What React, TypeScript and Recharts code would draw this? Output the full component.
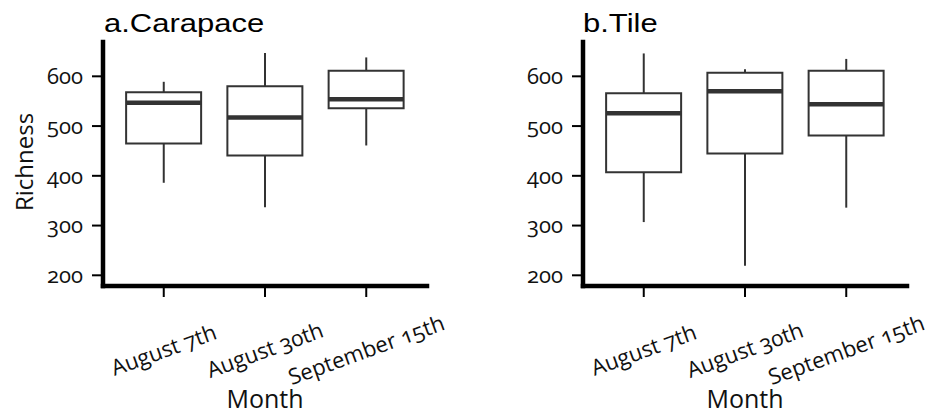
import React from 'react';
import { ComposedChart, Bar, Scatter, ErrorBar, XAxis, YAxis } from 'recharts';

// Sampling dates (categories on the x axis)
const months = ['August 7th', 'August 30th', 'September 15th'];
const yTicks = [200, 300, 400, 500, 600];

// a. Carapace – box plot statistics per month
const carapaceLow = [386, 337, 461];
const carapaceQ1 = [465, 441, 536];
const carapaceMedian = [547, 517, 554];
const carapaceQ3 = [568, 580, 611];
const carapaceHigh = [589, 647, 638];

// b. Tile – box plot statistics per month
const tileLow = [307, 219, 336];
const tileQ1 = [407, 445, 481];
const tileMedian = [526, 570, 544];
const tileQ3 = [566, 607, 611];
const tileHigh = [646, 614, 635];

const INK = '#333333';
const AXIS = '#000000';
const BOX_W = 75;
const FONT = "'Open Sans', sans-serif";

type Row = {
  pos: number;
  box: [number, number];
  q1: number;
  q3: number;
  med: number;
  upErr: [number, number];
  lowErr: [number, number];
};

function buildRows(lo: number[], q1: number[], med: number[], q3: number[], hi: number[]): Row[] {
  return months.map((_, i) => ({
    pos: i + 1,
    box: [q1[i], q3[i]],
    q1: q1[i],
    q3: q3[i],
    med: med[i],
    upErr: [0, hi[i] - q3[i]],
    lowErr: [q1[i] - lo[i], 0],
  }));
}

const carapaceRows = buildRows(carapaceLow, carapaceQ1, carapaceMedian, carapaceQ3, carapaceHigh);
const tileRows = buildRows(tileLow, tileQ1, tileMedian, tileQ3, tileHigh);

const MonthTick = (props: any) => {
  const { x, y, payload } = props;
  return (
    <g transform={`translate(${x},${y})`}>
      <text
        transform="rotate(-20)"
        textAnchor="middle"
        dy="0.35em"
        fontSize={22}
        fill="#111"
        fontFamily={FONT}
        style={{ fontVariantNumeric: 'oldstyle-nums' }}
      >
        {months[payload.value - 1]}
      </text>
    </g>
  );
};

const MedianMark = (props: any) => {
  const { cx, cy } = props;
  if (cx == null || cy == null) return <g />;
  return <line x1={cx - BOX_W / 2} x2={cx + BOX_W / 2} y1={cy} y2={cy} stroke={INK} strokeWidth={4.5} />;
};

const Hidden = () => <g />;

function Panel({ rows, showYTitle }: { rows: Row[]; showYTitle: boolean }) {
  return (
    <ComposedChart width={454} height={418} data={rows} margin={{ top: 42, right: 27, bottom: 0, left: 0 }}>
      <XAxis
        dataKey="pos"
        type="number"
        domain={[0.4, 3.6]}
        ticks={[1, 2, 3]}
        interval={0}
        allowDataOverflow
        height={132}
        axisLine={{ stroke: AXIS, strokeWidth: 4.5, strokeLinecap: 'square' }}
        tickLine={{ stroke: AXIS, strokeWidth: 2 }}
        tickSize={11}
        tickMargin={53}
        tick={<MonthTick />}
        label={{
          content: (p: any) => (
            <text
              x={p.viewBox.x + p.viewBox.width / 2}
              y={p.viewBox.y + 122}
              textAnchor="middle"
              fontSize={25}
              fill="#111"
              fontFamily={FONT}
            >
              Month
            </text>
          ),
        }}
      />
      <YAxis
        type="number"
        domain={[178.5, 669]}
        ticks={yTicks}
        allowDataOverflow
        width={103}
        axisLine={{ stroke: AXIS, strokeWidth: 4.5, strokeLinecap: 'square' }}
        tickLine={{ stroke: AXIS, strokeWidth: 2 }}
        tickSize={11}
        tickMargin={9}
        tick={{ fontSize: 22, fill: '#111', fontFamily: FONT, style: { fontVariantNumeric: 'oldstyle-nums' } }}
        label={
          showYTitle
            ? {
                content: (p: any) => {
                  const cx = p.viewBox.x + 33;
                  const cy = p.viewBox.y + p.viewBox.height / 2 - 2;
                  return (
                    <text
                      x={cx}
                      y={cy}
                      transform={`rotate(-90, ${cx}, ${cy})`}
                      textAnchor="middle"
                      fontSize={24}
                      fill="#111"
                      fontFamily={FONT}
                    >
                      Richness
                    </text>
                  );
                },
              }
            : undefined
        }
      />
      <Scatter dataKey="q3" shape={Hidden} isAnimationActive={false}>
        <ErrorBar dataKey="upErr" direction="y" width={0} stroke={INK} strokeWidth={2} />
      </Scatter>
      <Scatter dataKey="q1" shape={Hidden} isAnimationActive={false}>
        <ErrorBar dataKey="lowErr" direction="y" width={0} stroke={INK} strokeWidth={2} />
      </Scatter>
      <Bar dataKey="box" barSize={BOX_W} fill="#ffffff" stroke={INK} strokeWidth={2} isAnimationActive={false} />
      <Scatter dataKey="med" shape={MedianMark} isAnimationActive={false} />
    </ComposedChart>
  );
}

const titleStyle = (left: number): React.CSSProperties => ({
  position: 'absolute',
  left,
  top: 9.6,
  fontFamily: "'Liberation Sans', Arial, sans-serif",
  fontSize: 26.5,
  lineHeight: 1,
  color: '#000',
  transform: 'scaleX(1.17)',
  transformOrigin: 'left top',
  whiteSpace: 'nowrap',
});

export default function App() {
  return (
    <div style={{ position: 'absolute', left: 0, top: 0, width: 934, height: 418, background: '#fff', overflow: 'hidden' }}>
      <div style={{ position: 'absolute', left: 0, top: 0 }}>
        <Panel rows={carapaceRows} showYTitle />
      </div>
      <div style={{ position: 'absolute', left: 480, top: 0 }}>
        <Panel rows={tileRows} showYTitle={false} />
      </div>
      <div style={titleStyle(104)}>a.Carapace</div>
      <div style={titleStyle(583)}>b.Tile</div>
    </div>
  );
}
